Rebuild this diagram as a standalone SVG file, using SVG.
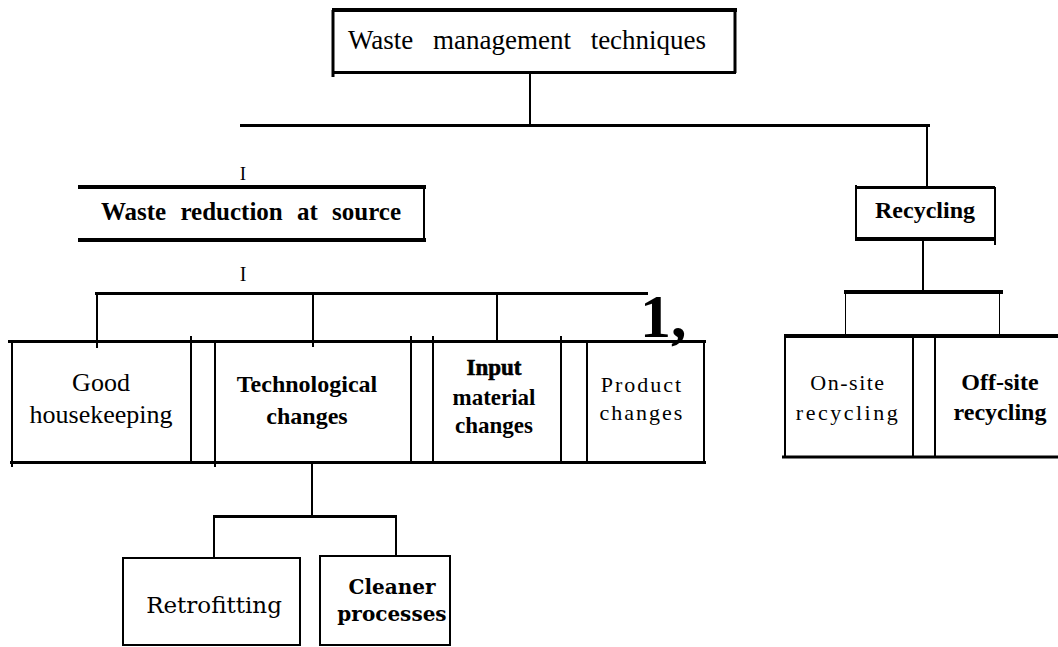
<svg xmlns="http://www.w3.org/2000/svg" width="1058" height="647" viewBox="0 0 1058 647">
  <style>
    .ln { stroke: #000; fill: none; stroke-linecap: butt; }
    .w4 { stroke-width: 4; }
    .w3 { stroke-width: 3; }
    .w2 { stroke-width: 2; }
    .w1 { stroke-width: 1; }
    text { fill: #000; font-family: "Liberation Serif", "Times New Roman", serif; text-anchor: middle; }
    .b { font-weight: bold; }
    .alt { font-family: "DejaVu Serif", "Liberation Serif", serif; }
  </style>
  <rect width="1058" height="647" fill="#fff"/>

  <!-- connectors -->
  <g id="connectors">
    <!-- root to main branch -->
    <path class="ln w2" d="M530 73 V127"/>
    <path class="ln w3" d="M240 125.5 H930"/>
    <path class="ln w2" d="M927 125 V188"/>
    <!-- broken stubs under the left branch -->
    <text x="243" y="180" style="font-size:19px">I</text>
    <text x="243" y="281" style="font-size:20px">I</text>
    <!-- reduction branches -->
    <path class="ln w3" d="M95 293.5 H648"/>
    <path class="ln w2" d="M97 293 V348"/>
    <path class="ln w2" d="M313 293 V347"/>
    <path class="ln w2" d="M497 293 V341"/>
    <!-- technological changes to sub-options -->
    <path class="ln w2" d="M312 462 V517"/>
    <path class="ln w3" d="M213 516.5 H397"/>
    <path class="ln w2" d="M214 516 V559"/>
    <path class="ln w2" d="M396 516 V557"/>
    <!-- recycling branches -->
    <path class="ln w2" d="M923 240 V292"/>
    <path class="ln w4" d="M844 292 H1003"/>
    <path class="ln w1" d="M845.5 292 V336"/>
    <path class="ln w1" d="M999.5 292 V336"/>
  </g>

  <g id="root">
    <path class="ln w4" d="M332 10 H737"/>
    <path class="ln w3" d="M333 72.5 H736"/>
    <path class="ln w3" d="M333 10 V77"/>
    <path class="ln w3" d="M735 10 V73"/>
    <text x="527" y="49" style="font-size:27px; word-spacing:13px">Waste management techniques</text>
  </g>

  <g id="reduction">
    <path class="ln w4" d="M78 187 H426"/>
    <path class="ln w4" d="M78 240 H426"/>
    <path class="ln w2" d="M424 185 V242"/>
    <text class="b" x="251" y="220" style="font-size:25px; word-spacing:8px">Waste reduction at source</text>
  </g>

  <g id="recycling">
    <path class="ln w3" d="M855 187.5 H995"/>
    <path class="ln w4" d="M855 239 H995"/>
    <path class="ln w2" d="M856 185 V241"/>
    <path class="ln w2" d="M995 187 V245"/>
    <text class="b" x="925" y="218" style="font-size:24px">Recycling</text>
  </g>

  <g id="reduction-options">
    <path class="ln w3" d="M8 341.5 H706"/>
    <path class="ln w3" d="M10 462.5 H706"/>
    <path class="ln w2" d="M12 341 V467"/>
    <path class="ln w2" d="M191 336 V462"/>
    <path class="ln w2" d="M215 341 V467"/>
    <path class="ln w2" d="M411 336 V462"/>
    <path class="ln w2" d="M433 336 V462"/>
    <path class="ln w2" d="M561 336 V462"/>
    <path class="ln w2" d="M587 341 V462"/>
    <path class="ln w2" d="M704 341 V462"/>
    <text class="b" x="640" y="337" style="font-size:62px; text-anchor:start">1,</text>
  </g>

  <g id="good-housekeeping">
    <text x="101" y="391" style="font-size:26px">Good</text>
    <text x="101" y="423" style="font-size:26px">housekeeping</text>
  </g>

  <g id="technological-changes">
    <text class="b" x="307" y="392" style="font-size:24px">Technological</text>
    <text class="b" x="307" y="424" style="font-size:24px">changes</text>
  </g>

  <g id="input-material-changes">
    <text class="b" x="494" y="375" style="font-size:23px; stroke:#000; stroke-width:0.6">Input</text>
    <text class="b" x="494" y="405" style="font-size:23px">material</text>
    <text class="b" x="494" y="433" style="font-size:23px">changes</text>
  </g>

  <g id="product-changes">
    <text x="642" y="392" style="font-size:22px; letter-spacing:2px">Product</text>
    <text x="642" y="420" style="font-size:22px; letter-spacing:2px">changes</text>
  </g>

  <g id="recycling-options">
    <path class="ln w4" d="M784 336 H1058"/>
    <path class="ln w3" d="M782 457 H1058"/>
    <path class="ln w2" d="M785 336 V457"/>
    <path class="ln w2" d="M913 336 V457"/>
    <path class="ln w2" d="M935 336 V457"/>
  </g>

  <g id="on-site-recycling">
    <text x="848" y="390" style="font-size:22px; letter-spacing:1.5px">On-site</text>
    <text x="848" y="420" style="font-size:22px; letter-spacing:2.5px">recycling</text>
  </g>

  <g id="off-site-recycling">
    <text class="b" x="1000" y="390" style="font-size:24px">Off-site</text>
    <text class="b" x="1000" y="420" style="font-size:24px">recycling</text>
  </g>

  <g id="retrofitting">
    <path class="ln w2" d="M123 558 H300 V645 H123 Z"/>
    <text class="alt" x="214" y="613" style="font-size:23px">Retrofitting</text>
  </g>

  <g id="cleaner-processes">
    <path class="ln w2" d="M320 556 H450 V645 H320 Z"/>
    <text class="alt b" x="392" y="594" style="font-size:20px">Cleaner</text>
    <text class="alt b" x="392" y="621" style="font-size:20px">processes</text>
  </g>
</svg>
